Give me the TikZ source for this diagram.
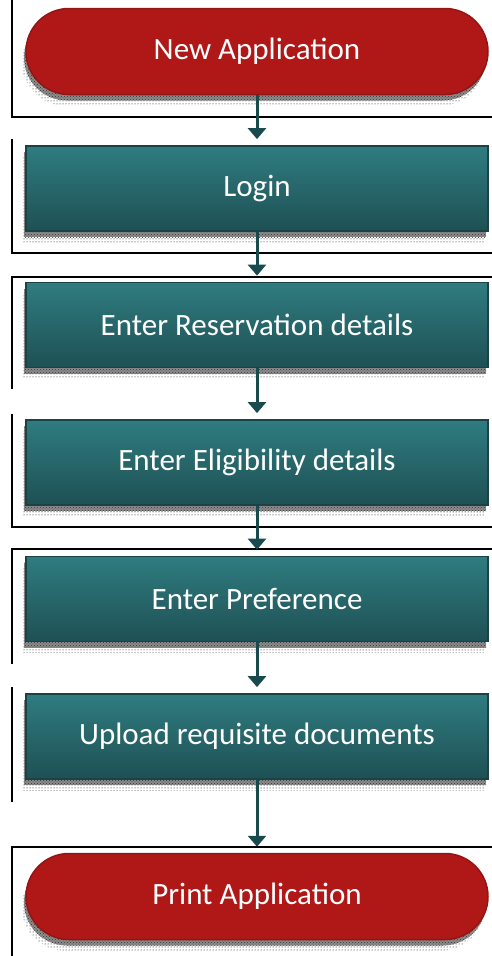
\documentclass[tikz,border=0pt]{standalone}
\usepackage{fontspec}
\setmainfont{Carlito}
\usetikzlibrary{arrows.meta,patterns,shadows}
\definecolor{tealtop}{RGB}{47,124,128}
\definecolor{tealbot}{RGB}{30,80,84}
\definecolor{tealedge}{RGB}{27,66,68}
\definecolor{redfill}{RGB}{176,24,24}
\definecolor{rededge}{RGB}{148,20,20}
\definecolor{arrowcol}{RGB}{24,74,78}
\begin{document}
\begin{tikzpicture}[x=1pt,y=-1pt,
  dotshadow/.style={
    general shadow={shadow xshift=-4pt,shadow yshift=-11pt,pattern=dots,pattern color=black},
    general shadow={shadow xshift=-2pt,shadow yshift=-6pt,fill=black!45},
    general shadow={shadow xshift=-2pt,shadow yshift=-6pt,pattern=crosshatch dots,pattern color=black!80}},
  box/.style={draw=tealedge,line width=1.8pt,top color=tealtop,bottom color=tealbot,
    minimum width=462pt,minimum height=85pt,inner sep=0pt,text=white,
    font=\fontsize{31}{36}\selectfont,dotshadow},
  pill/.style={draw=rededge,line width=1.5pt,fill=redfill,rounded corners=43pt,
    minimum width=462pt,minimum height=86pt,inner sep=0pt,text=white,
    font=\fontsize{31}{36}\selectfont,dotshadow},
  frame/.style={line width=1.2pt,black},
  arr/.style={draw=arrowcol,line width=3pt,-{Triangle[width=18pt,length=11pt]},shorten >=6pt}]
\useasboundingbox (0,0) rectangle (492,956);
% frames
\draw[frame] (12,0) -- (12,117) -- (492,117);
\draw[frame] (12,139) -- (12,253) -- (492,253);
\draw[frame] (492,277) -- (12,277) -- (12,389);
\draw[frame] (12,414) -- (12,527) -- (492,527);
\draw[frame] (492,549) -- (12,549) -- (12,664);
\draw[frame] (12,687) -- (12,802);
\draw[frame] (492,847) -- (12,847) -- (12,956);
% nodes
\node[pill] (n1) at (257,51.5) {New Application};
\node[box]  (n2) at (257,188.5) {Login};
\node[box]  (n3) at (257,325) {Enter Reservation details};
\node[box]  (n4) at (257,462.5) {Enter Eligibility details};
\node[box]  (n5) at (257,599) {Enter Preference};
\node[box]  (n6) at (257,736.5) {Upload requisite documents};
\node[pill] (n7) at (257,896.5) {Print Application};
% connectors
\draw[arr] (n1.south) -- (n2.north);
\draw[arr] (n2.south) -- (n3.north);
\draw[arr] (n3.south) -- (n4.north);
\draw[arr] (n4.south) -- (n5.north);
\draw[arr] (n5.south) -- (n6.north);
\draw[arr] (n6.south) -- (n7.north);
\end{tikzpicture}
\end{document}
